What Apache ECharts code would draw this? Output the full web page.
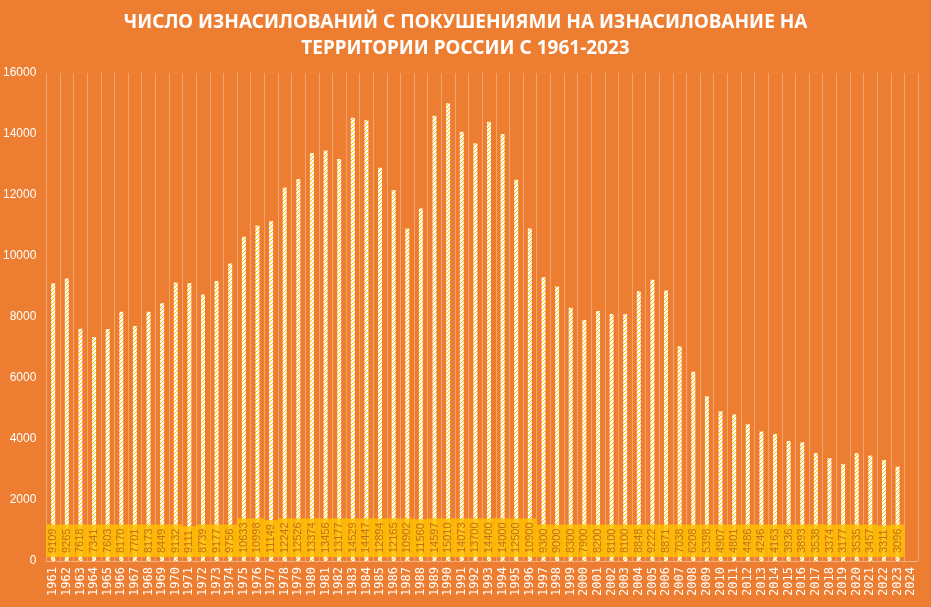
<!DOCTYPE html>
<html>
<head>
<meta charset="utf-8">
<script src="https://cdn.jsdelivr.net/npm/echarts@6/dist/echarts.min.js"></script>
<style>
html,body{margin:0;padding:0;background:#ED7D31;}
#c{width:931px;height:607px;}
</style>
</head>
<body>
<div id="c"></div>
<script>
const titleText = 'ЧИСЛО ИЗНАСИЛОВАНИЙ С ПОКУШЕНИЯМИ НА ИЗНАСИЛОВАНИЕ НА\nТЕРРИТОРИИ РОССИИ С 1961-2023';
const years = ['1961','1962','1963','1964','1965','1966','1967','1968','1969','1970','1971','1972','1973','1974','1975','1976','1977','1978','1979','1980','1981','1982','1983','1984','1985','1986','1987','1988','1989','1990','1991','1992','1993','1994','1995','1996','1997','1998','1999','2000','2001','2002','2003','2004','2005','2006','2007','2008','2009','2010','2011','2012','2013','2014','2015','2016','2017','2018','2019','2020','2021','2022','2023','2024'];
const counts = [9109,9265,7618,7341,7603,8170,7701,8173,8449,9132,9111,8739,9177,9756,10633,10998,11149,12242,12526,13374,13456,13177,14529,14447,12894,12165,10902,11560,14597,15010,14073,13700,14400,14000,12500,10900,9300,9000,8300,7900,8200,8100,8100,8848,9222,8871,7038,6208,5398,4907,4801,4486,4246,4163,3936,3893,3538,3374,3177,3535,3457,3311,3096,null];

// hatch pattern
const pc = document.createElement('canvas');
pc.width = 4; pc.height = 4;
const g = pc.getContext('2d');
g.fillStyle = '#FFFFFF'; g.fillRect(0,0,4,4);
g.fillStyle = '#FFC000';
[[0,3],[1,2],[2,1],[3,0]].forEach(p=>g.fillRect(p[0],p[1],1,1));

const chart = echarts.init(document.getElementById('c'));
chart.setOption({
  backgroundColor: '#ED7D31',
  animation: false,
  title: {
    text: titleText,
    left: 'center', top: 5,
    textStyle: {color:'#FFFFFF', fontSize:19, fontWeight:'bold', fontFamily:'Noto Sans', lineHeight:26}
  },
  grid: {left:46, right:13, top:73, bottom:46},
  xAxis: {
    type:'category', data: years,
    axisLine:{show:true, lineStyle:{color:'rgba(255,255,255,0.4)', width:1}},
    axisTick:{show:false},
    splitLine:{show:true, interval:0, lineStyle:{color:'rgba(255,255,255,0.3)', width:1}},
    axisLabel:{interval:0, rotate:90, color:'#FFFFFF', fontSize:12, fontFamily:'DejaVu Sans Mono', margin:6}
  },
  yAxis: {
    type:'value', min:0, max:16000, interval:2000,
    axisLine:{show:false}, axisTick:{show:false}, splitLine:{show:false},
    axisLabel:{color:'#FFFFFF', fontSize:12, fontFamily:'Liberation Sans', margin:10,
      formatter: v => String(v)}
  },
  series: [{
    type:'bar', data: counts, barWidth:4,
    itemStyle:{color:{image:pc, repeat:'repeat'}},
    label:{
      show:true, position:'insideBottom', distance:4, rotate:90,
      align:'left', verticalAlign:'middle',
      color:'rgba(185,95,20,0.85)', fontSize:11, fontFamily:'Liberation Sans',
      lineHeight:12,
      backgroundColor:'rgba(255,192,0,0.85)', padding:[1,4,1,4]
    }
  }]
});
</script>
</body>
</html>
